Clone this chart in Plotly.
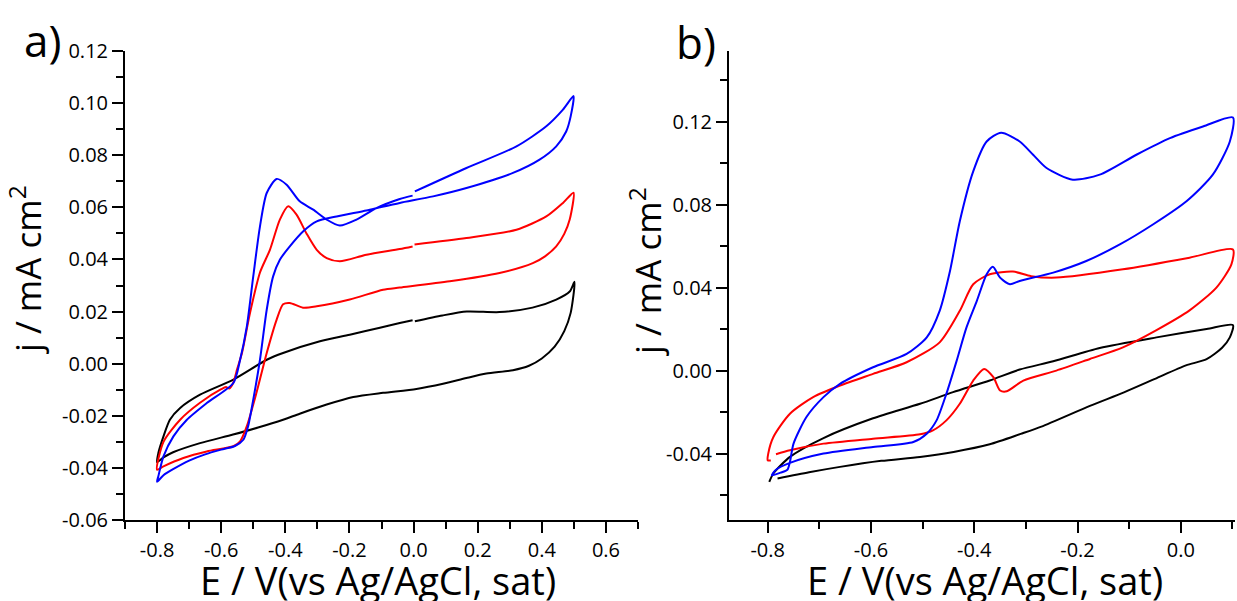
import plotly.graph_objects as go

# ---------------- Panel a data (E / V, j / mA cm^-2) ----------------
a_black_E = [0.004, 0.09, 0.166, 0.268, 0.371, 0.445, 0.487, 0.502,
             0.49, 0.47, 0.44, 0.40, 0.36, 0.31, 0.227, 0.165, 0.092, 0.009, -0.095, -0.188, -0.271, -0.355,
             -0.407, -0.485, -0.563, -0.666, -0.75, -0.78, -0.8,
             -0.796, -0.78, -0.76, -0.728, -0.666, -0.562, -0.458, -0.407, -0.292, -0.199, -0.105, -0.043, -0.003]
a_black_j = [0.0163, 0.0185, 0.0200, 0.0198, 0.0215, 0.0246, 0.0277, 0.0314,
             0.0195, 0.0125, 0.0065, 0.0020, -0.0008, -0.0025, -0.0038, -0.0055, -0.0077, -0.0097, -0.0112, -0.0128, -0.0157, -0.0192,
             -0.0215, -0.0245, -0.0272, -0.0305, -0.0340, -0.0360, -0.0378,
             -0.0343, -0.0279, -0.0215, -0.0170, -0.0119, -0.0061, 0.0015, 0.0041, 0.0086, 0.0111, 0.0138, 0.0156, 0.0167]

a_red_E = [0.003, 0.165, 0.321, 0.414, 0.466, 0.499,
           0.487, 0.47, 0.445, 0.41, 0.372, 0.268, 0.113, -0.043, -0.095, -0.199, -0.302, -0.345, -0.386, -0.407, -0.427, -0.458,
           -0.49, -0.52, -0.541, -0.562, -0.645, -0.718, -0.78, -0.8,
           -0.78, -0.728, -0.666, -0.60, -0.585, -0.575, -0.563, -0.55, -0.535, -0.51, -0.479, -0.448, -0.417,
           -0.391, -0.365, -0.334, -0.302, -0.271, -0.23, -0.147, -0.043, -0.003]
a_red_j = [0.0457, 0.0482, 0.0514, 0.0565, 0.0617, 0.0656,
           0.0553, 0.0498, 0.0450, 0.0412, 0.0386, 0.0348, 0.0316, 0.0292, 0.0284, 0.0246, 0.0220, 0.0215, 0.0233, 0.0228, 0.0169, 0.0041,
           -0.0112, -0.0240, -0.0298, -0.0317, -0.0337, -0.0362, -0.0394, -0.0407,
           -0.0300, -0.0215, -0.0150, -0.0098, -0.0090, -0.0095, -0.0075, -0.0020, 0.0042, 0.0195, 0.0350, 0.0437, 0.0553,
           0.0604, 0.0572, 0.0500, 0.0437, 0.0405, 0.0393, 0.0418, 0.0440, 0.0450]

a_blue_E = [0.004, 0.165, 0.321, 0.414, 0.466, 0.499,
            0.49, 0.476, 0.445, 0.393, 0.31, 0.165, 0.061, -0.043, -0.105, -0.147, -0.24, -0.302, -0.344, -0.386,
            -0.417, -0.438, -0.458, -0.479, -0.5, -0.516, -0.531, -0.557, -0.60, -0.65, -0.70, -0.75, -0.78, -0.8,
            -0.796, -0.78, -0.749, -0.707, -0.645, -0.562, -0.541, -0.52, -0.5, -0.479, -0.458, -0.427, -0.396,
            -0.355, -0.313, -0.271, -0.23, -0.178, -0.116, -0.043, -0.003]
a_blue_j = [0.0661, 0.0751, 0.0834, 0.0911, 0.0975, 0.1027,
            0.0949, 0.0891, 0.0834, 0.0783, 0.0732, 0.0674, 0.0642, 0.0617, 0.0600, 0.0588, 0.0565, 0.0546, 0.0508, 0.0450,
            0.0399, 0.0335, 0.0207, 0.0015, -0.0138, -0.0240, -0.0292, -0.0316, -0.0330, -0.0348, -0.0372, -0.0405, -0.0428, -0.0453,
            -0.0432, -0.0356, -0.0279, -0.0215, -0.0151, -0.0074, 0.0015, 0.0143, 0.0335, 0.0527, 0.0655, 0.0709, 0.0687,
            0.0623, 0.0591, 0.0553, 0.0530, 0.0553, 0.0597, 0.0632, 0.0645]

# ---------------- Panel b data ----------------
b_black_E = [-0.781, -0.72, -0.66, -0.58, -0.505, -0.44, -0.37, -0.31, -0.27, -0.176, -0.11, -0.05, 0.01, 0.05, 0.08, 0.095, 0.101,
             0.05, -0.047, -0.157, -0.247, -0.312, -0.37, -0.441, -0.505, -0.596, -0.692, -0.757, -0.789, -0.797]
b_black_j = [-0.0520, -0.0490, -0.0464, -0.0435, -0.0416, -0.0392, -0.0355, -0.0305, -0.0270, -0.0170, -0.0105, -0.0040, 0.0025, 0.0055, 0.0110, 0.0160, 0.0219,
             0.0200, 0.0160, 0.0109, 0.0045, 0.0005, -0.0048, -0.0104, -0.0160, -0.0230, -0.0325, -0.0416, -0.0496, -0.0536]

b_red_E = [-0.784, -0.757, -0.692, -0.596, -0.505, -0.48, -0.454, -0.428, -0.402, -0.381, -0.363, -0.35, -0.337,
           -0.305, -0.241, -0.176, -0.112, -0.047, 0.017, 0.069, 0.098, 0.101,
           0.017, -0.112, -0.241, -0.29, -0.325, -0.37, -0.402, -0.428, -0.467, -0.531, -0.596, -0.66, -0.712,
           -0.757, -0.789, -0.799, -0.800, -0.794]
b_red_j = [-0.0403, -0.0384, -0.0352, -0.0328, -0.0307, -0.0288, -0.0240, -0.0160, -0.0048, 0.0008, -0.0032, -0.0096, -0.0100,
           -0.0048, 0.0000, 0.0056, 0.0112, 0.0195, 0.0290, 0.0400, 0.0512, 0.0584,
           0.0544, 0.0488, 0.0448, 0.0455, 0.0477, 0.0464, 0.0416, 0.0288, 0.0136, 0.0040, -0.0016, -0.0072, -0.0128,
           -0.0208, -0.0320, -0.0400, -0.0432, -0.0433]

b_blue_E = [-0.762, -0.757, -0.75, -0.725, -0.692, -0.66, -0.596, -0.531, -0.492, -0.467, -0.447, -0.428, -0.402, -0.376,
            -0.348, -0.312, -0.286, -0.26, -0.209, -0.157, -0.086, -0.021, 0.043, 0.101,
            0.095, 0.062, 0.011, -0.054, -0.118, -0.183, -0.247, -0.312, -0.331, -0.35, -0.364, -0.376, -0.395, -0.415,
            -0.434, -0.454, -0.473, -0.492, -0.518, -0.596, -0.692, -0.757, -0.785, -0.792, -0.775, -0.762]
b_blue_j = [-0.0478, -0.0440, -0.0352, -0.0224, -0.0128, -0.0064, 0.0016, 0.0080, 0.0160, 0.0288, 0.0480, 0.0720, 0.0960, 0.1104,
            0.1146, 0.1104, 0.1040, 0.0976, 0.0920, 0.0944, 0.1040, 0.1120, 0.1176, 0.1220,
            0.1104, 0.0944, 0.0816, 0.0704, 0.0608, 0.0528, 0.0472, 0.0432, 0.0416, 0.0448, 0.0500, 0.0464, 0.0336, 0.0208,
            0.0048, -0.0112, -0.0240, -0.0304, -0.0344, -0.0368, -0.0400, -0.0445, -0.0480, -0.0505, -0.0492, -0.0478]

# ---------------- Tick labels ----------------
a_xtick_vals = [-0.8, -0.6, -0.4, -0.2, 0.0, 0.2, 0.4, 0.6]
a_xtick_text = ["-0.8", "-0.6", "-0.4", "-0.2", "0.0", "0.2", "0.4", "0.6"]
a_xminor_vals = [-0.9, -0.7, -0.5, -0.3, -0.1, 0.1, 0.3, 0.5, 0.7]
a_ytick_vals = [-0.06, -0.04, -0.02, 0.0, 0.02, 0.04, 0.06, 0.08, 0.10, 0.12]
a_ytick_text = ["-0.06", "-0.04", "-0.02", "0.00", "0.02", "0.04", "0.06", "0.08", "0.10", "0.12"]
a_yminor_vals = [-0.05, -0.03, -0.01, 0.01, 0.03, 0.05, 0.07, 0.09, 0.11]

b_xtick_vals = [-0.8, -0.6, -0.4, -0.2, 0.0]
b_xtick_text = ["-0.8", "-0.6", "-0.4", "-0.2", "0.0"]
b_xminor_vals = [-0.7, -0.5, -0.3, -0.1, 0.1]
b_ytick_vals = [-0.04, 0.0, 0.04, 0.08, 0.12]
b_ytick_text = ["-0.04", "0.00", "0.04", "0.08", "0.12"]
b_yminor_vals = [-0.06, -0.02, 0.02, 0.06, 0.10, 0.14]

FONT = "Open Sans"
BLK = "#000000"

fig = go.Figure()

def add(E, j, color, xa, ya):
    fig.add_trace(go.Scatter(x=E, y=j, mode="lines", xaxis=xa, yaxis=ya, cliponaxis=False,
                             line=dict(color=color, width=2, shape="spline", smoothing=0.7),
                             showlegend=False, hoverinfo="skip"))

add(a_black_E, a_black_j, "#000000", "x", "y")
add(a_red_E, a_red_j, "#ff0000", "x", "y")
add(a_blue_E, a_blue_j, "#0000ff", "x", "y")
add(b_black_E, b_black_j, "#000000", "x2", "y2")
add(b_red_E, b_red_j, "#ff0000", "x2", "y2")
add(b_blue_E, b_blue_j, "#0000ff", "x2", "y2")

W, H = 1237, 601
def px_x(p):
    return p / W
def px_y(p):
    return 1 - p / H

def axis(domain, rng, vals, text, minor_vals, anchor):
    return dict(domain=domain, range=rng, anchor=anchor, automargin=False,
                showline=True, linecolor=BLK, linewidth=2,
                ticks="outside", ticklen=11, tickwidth=2, tickcolor=BLK,
                tickmode="array", tickvals=vals, ticktext=text,
                minor=dict(ticks="outside", tickmode="array", tickvals=minor_vals, ticklen=7, tickwidth=2, tickcolor=BLK),
                showgrid=False, zeroline=False, mirror=False,
                tickfont=dict(family=FONT, size=20, color=BLK))

ydom = [px_y(520), px_y(51)]
fig.update_layout(
    width=W, height=H, autosize=False,
    margin=dict(l=0, r=0, t=0, b=0, pad=0, autoexpand=False),
    paper_bgcolor="white", plot_bgcolor="white",
    xaxis=axis([px_x(125), px_x(638)], [-0.9, 0.7], a_xtick_vals, a_xtick_text, a_xminor_vals, "y"),
    yaxis=axis(ydom, [-0.06, 0.12], a_ytick_vals, a_ytick_text, a_yminor_vals, "x"),
    xaxis2=axis([px_x(729), px_x(1235)], [-0.875, 0.105], b_xtick_vals, b_xtick_text, b_xminor_vals, "y2"),
    yaxis2=axis(ydom, [-0.072, 0.154], b_ytick_vals, b_ytick_text, b_yminor_vals, "x2"),
)

xt = "E / V(vs Ag/AgCl, sat)"
yt = "j / mA cm<sup>2</sup>"
ann = [
    dict(text=xt, x=px_x(378), y=px_y(580), font=dict(size=38)),
    dict(text=xt, x=px_x(985), y=px_y(580), font=dict(size=38)),
    dict(text=yt, x=px_x(25), y=px_y(270), textangle=-90, font=dict(size=35)),
    dict(text=yt, x=px_x(645), y=px_y(272), textangle=-90, font=dict(size=35)),
    dict(text="a)", x=px_x(42), y=px_y(40), font=dict(size=44)),
    dict(text="b)", x=px_x(696), y=px_y(42), font=dict(size=44)),
]
for a in ann:
    a.update(xref="paper", yref="paper", showarrow=False, xanchor="center", yanchor="middle")
    a["font"].update(family=FONT, color=BLK)
fig.update_layout(annotations=ann)

fig.write_html("out.html", config={"displayModeBar": False},
               post_script="document.body.style.margin='0';document.body.style.overflow='hidden';")
